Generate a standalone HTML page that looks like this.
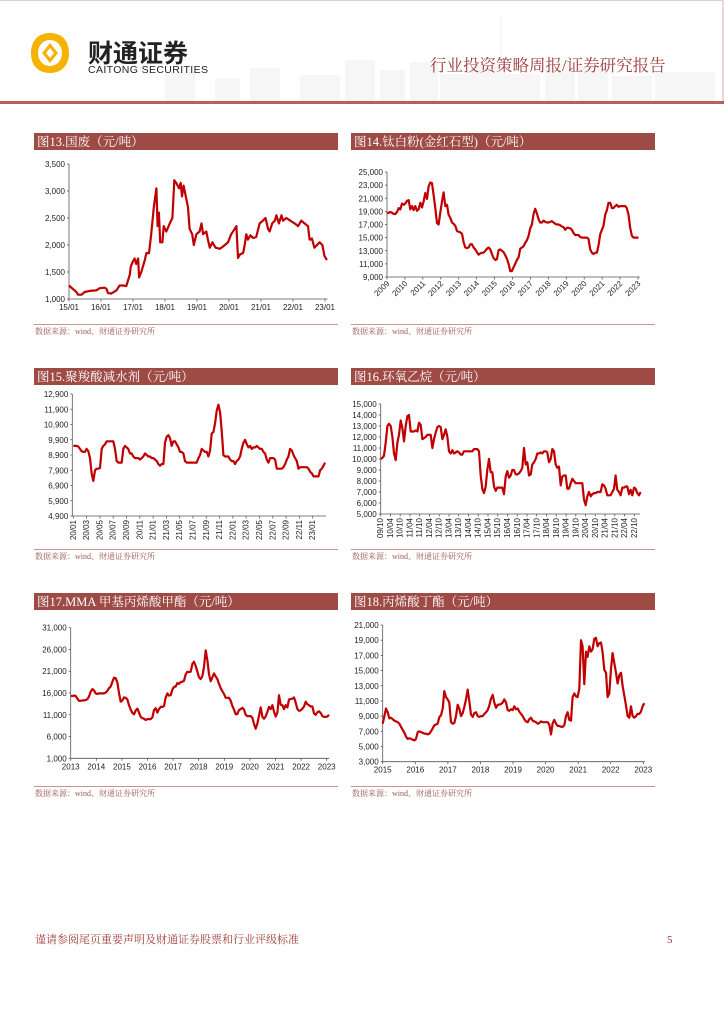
<!DOCTYPE html>
<html><head><meta charset="utf-8">
<style>
html,body{margin:0;padding:0;background:#fff;}
svg{display:block;}
.t{font-family:"Liberation Sans",sans-serif;font-size:8px;fill:#222;}
.cn{font-family:"Liberation Serif","Noto Serif CJK SC",serif;}
</style></head>
<body>
<svg id="page" width="724" height="1024" viewBox="0 0 724 1024" xmlns="http://www.w3.org/2000/svg">
  <rect x="0" y="0" width="724" height="1024" fill="#fff"/>
  <rect x="0" y="0" width="724" height="1" fill="#e6cfcd"/>
  <rect x="722" y="0" width="2" height="104" fill="#ead6d4"/>
  <g fill="#f6f6f6">
    <rect x="165" y="72" width="30" height="30"/>
    <rect x="215" y="78" width="25" height="24"/><rect x="250" y="68" width="30" height="34"/>
    <rect x="300" y="75" width="40" height="27"/><rect x="345" y="60" width="30" height="42"/>
    <rect x="380" y="70" width="25" height="32"/><rect x="410" y="62" width="28" height="40"/>
    <rect x="440" y="74" width="30" height="28"/><rect x="470" y="66" width="30" height="36"/>
    <rect x="500" y="74" width="40" height="28"/><rect x="545" y="70" width="30" height="32"/>
    <rect x="578" y="66" width="30" height="36"/><rect x="612" y="76" width="40" height="26"/>
    <rect x="655" y="72" width="60" height="30"/><rect x="500" y="14" width="2" height="88"/>
  </g>
  <g>
    <path fill-rule="evenodd" d="M50 33 C62 33 69 41 69 53 C69 65 62 73 50 73 C38 73 31 65 31 53 C31 41 38 33 50 33 Z M50 40 C43 40 38 46 38 53 C38 60 43 66 50 66 C57 66 62 60 62 53 C62 46 57 40 50 40 Z" fill="#f5b300"/>
    <path fill-rule="evenodd" d="M50 43 L58 53 L50 63 L42 53 Z M50 48 L54 53 L50 58 L46 53 Z" fill="#f5b300"/>
    <text x="88" y="62" font-size="25" font-weight="bold" fill="#222" style="font-family:'Noto Sans CJK SC',sans-serif">财通证券</text>
    <text x="88" y="73" font-family="Liberation Sans, sans-serif" font-size="10.5" fill="#222" textLength="120">CAITONG SECURITIES</text>
  </g>
  <text x="430" y="71" class="cn" font-size="16.5" fill="#9c3b36">行业投资策略周报/证券研究报告</text>
  <rect x="0" y="101" width="724" height="3" fill="#b5605a"/>
  <g id="charts"></g>
  <text x="35" y="943" class="cn" font-size="11" fill="#a0403b">谨请参阅尾页重要声明及财通证券股票和行业评级标准</text>
  <text x="667" y="943" class="cn" font-size="11" fill="#a0403b">5</text>
</svg>
<script>
// ---- Chart 13: 国废 ----
const c13Dates=[2015.00,2015.13,2015.23,2015.28,2015.39,2015.49,2015.65,2015.85,2015.96,2016.11,2016.17,2016.22,2016.32,2016.48,2016.58,2016.69,2016.79,2016.90,2016.93,2017.00,2017.05,2017.10,2017.16,2017.19,2017.26,2017.36,2017.42,2017.50,2017.57,2017.65,2017.73,2017.77,2017.81,2017.85,2017.92,2017.96,2018.04,2018.15,2018.23,2018.29,2018.35,2018.44,2018.49,2018.53,2018.58,2018.65,2018.72,2018.77,2018.85,2018.90,2018.98,2019.08,2019.14,2019.19,2019.29,2019.34,2019.40,2019.48,2019.58,2019.71,2019.81,2019.97,2020.07,2020.18,2020.23,2020.28,2020.35,2020.44,2020.49,2020.54,2020.59,2020.67,2020.75,2020.85,2020.96,2021.06,2021.14,2021.22,2021.27,2021.35,2021.43,2021.48,2021.56,2021.64,2021.69,2021.79,2021.92,2022.05,2022.16,2022.26,2022.36,2022.47,2022.52,2022.59,2022.67,2022.75,2022.83,2022.92,2022.98,2023.06];
const c13Values=[1250,1180,1130,1080,1080,1130,1150,1160,1200,1210,1190,1110,1100,1160,1250,1250,1240,1450,1600,1700,1750,1650,1750,1400,1500,1700,1850,1850,2200,2700,3050,2350,2600,2050,2050,2350,2250,2400,2500,3200,3150,3050,3150,2900,3100,2900,2700,2300,2200,2000,2200,2250,2400,2200,2250,2100,1950,2050,1950,1930,1970,2050,2200,2300,2350,1760,1830,1850,2000,2200,2100,2180,2130,2150,2400,2450,2500,2300,2250,2400,2450,2550,2400,2550,2450,2500,2450,2400,2350,2450,2400,2350,2100,2120,1950,2000,2050,2000,1800,1720];
const c13XTicks=[2015,2016,2017,2018,2019,2020,2021,2022,2023];
const c13XLabels=["15/01","16/01","17/01","18/01","19/01","20/01","21/01","22/01","23/01"];
const c13YTicks=[1000,1500,2000,2500,3000,3500];

// ---- Chart 14: 钛白粉 ----
const c14Start=2009.0, c14Step=0.0929;
const c14Values=[18700,18800,18900,18800,18600,18600,18900,19500,19300,20200,20000,20200,20600,20700,19300,19800,19200,19800,19100,19300,20300,19600,20500,21800,20900,22800,23400,23300,21500,19500,17200,17000,18800,20500,21900,19800,20000,18500,18000,17300,17100,16800,16000,15900,15800,15600,14300,13500,13400,13500,14000,14000,13500,13200,12800,12400,12600,12700,12700,13000,13300,13500,13200,12500,11900,11600,11700,13100,13200,13000,12800,12300,11800,11000,9900,9900,10500,11000,11600,12000,13300,13500,13700,14200,14600,15300,16400,17000,18600,19400,18700,17800,17300,17300,17600,17400,17300,17300,17400,17500,17300,17100,17000,17000,16900,16700,16600,16200,16500,16500,16400,16200,15700,15400,15400,15400,15100,15000,15000,15000,15000,14800,13200,12700,12500,12700,12700,13800,15500,16200,16800,18500,19200,20300,20300,19500,19500,19800,20000,19700,19800,19800,19800,19800,19500,18500,16500,15300,15000,15000,15000,15000];
const c14XTicks=[2009,2010,2011,2012,2013,2014,2015,2016,2017,2018,2019,2020,2021,2022,2023];
const c14YTicks=[9000,11000,13000,15000,17000,19000,21000,23000,25000];

// ---- Chart 15: 聚羧酸减水剂 (months since 2020/01) ----
const c15Start=0, c15Step=0.2508;
const c15Values=[9500,9500,9500,9450,9300,9150,9100,9100,9300,9150,8700,7700,7200,7900,8000,8000,8050,9300,9500,9600,9800,9800,9800,9800,9800,9300,8500,8400,8400,8400,9300,9500,9400,9300,9000,9000,8800,8700,8700,8700,8600,8700,8800,9000,8900,8800,8800,8700,8700,8600,8500,8300,8200,8300,8300,9700,10100,10200,10000,9500,9800,9800,9600,9400,9100,9100,9000,8500,8400,8400,8400,8400,8400,8400,8400,8700,8900,9300,9200,9100,9100,8800,9200,10300,10400,11000,11800,12200,11700,10500,8900,8800,8800,8800,8600,8500,8500,8300,8500,8600,8800,9300,9700,9900,9600,9400,9500,9300,9400,9400,9500,9400,9300,9300,9100,9000,8600,8400,8700,8700,8700,8600,8000,8000,8000,8000,8100,8300,8600,8800,9300,9200,8900,8700,8500,8000,8100,8100,8100,8100,8100,8000,7800,7700,7500,7500,7500,7500,7900,8000,8200,8400];
const c15XTicks=[0,2,4,6,8,10,12,14,16,18,20,22,24,26,28,30,32,34,36];
const c15XLabels=["20/01","20/03","20/05","20/07","20/09","20/11","21/01","21/03","21/05","21/07","21/09","21/11","22/01","22/03","22/05","22/07","22/09","22/11","23/01"];
const c15YTicks=[4900,5900,6900,7900,8900,9900,10900,11900,12900];

// ---- Chart 16: 环氧乙烷 (months since 2009/10) ----
const c16Start=0, c16Step=1.025;
const c16Values=[10000,10100,10300,11500,13000,13200,13000,12000,10500,9900,11500,12200,13500,12800,11600,13000,13900,14000,12500,12500,12500,12600,12500,13300,13100,11800,11900,12000,12200,12200,12200,11000,11800,12400,12900,13000,12900,11800,12200,12700,12000,10700,10500,10800,10500,10600,10700,10600,10400,10400,10700,10700,10700,10700,10700,10700,10900,10900,10900,10700,8500,7300,6900,7500,9000,10000,8800,8800,7500,7100,7400,7400,7400,7400,6800,8400,8900,8300,8500,9000,9000,8600,8600,8700,8900,9200,11000,9500,9700,8500,8600,9500,9700,10000,10500,10500,10600,10500,10700,10700,10600,9700,10000,10900,10700,9500,9200,9300,7600,8400,8500,8500,7300,7300,7800,8200,8000,7800,7800,7800,7800,7800,6300,5800,6600,7000,6600,6800,6900,6900,7000,7000,7000,7700,7600,7300,6700,6700,6700,7000,7300,8500,7200,7000,6700,7400,7400,7500,7500,6800,7200,6700,7400,7300,6900,6700,7000];
const c16XTicks=[0,6,12,18,24,30,36,42,48,54,60,66,72,78,84,90,96,102,108,114,120,126,132,138,144,150,156];
const c16XLabels=["09/10","10/04","10/10","11/04","11/10","12/04","12/10","13/04","13/10","14/04","14/10","15/04","15/10","16/04","16/10","17/04","17/10","18/04","18/10","19/04","19/10","20/04","20/10","21/04","21/10","22/04","22/10"];
const c16YTicks=[5000,6000,7000,8000,9000,10000,11000,12000,13000,14000,15000];

// ---- Chart 17: MMA ----
const c17Start=2013.0, c17Step=0.0651;
const c17Values=[15300,15300,15400,15300,14700,14200,14200,14300,14300,14400,14600,15200,16300,16900,16600,15900,15800,15900,15900,15900,15900,16100,16500,17100,17500,18600,19500,19400,18400,16000,14000,14300,15000,14900,14500,13200,12200,11400,11100,12000,12400,11500,10500,10200,10100,9800,10000,10000,10000,10400,12100,12500,11500,12300,12800,12800,13000,15000,15900,15400,15500,16800,17400,17500,18300,18100,18500,18600,18800,20300,20900,20800,20900,22700,23200,22200,20900,19600,19200,19900,22000,25800,23500,20300,18700,19600,20500,19800,19200,18100,17100,16400,15800,14900,14900,14900,14200,13000,12200,11100,11200,12100,12300,12600,12200,11000,10700,10700,10700,10300,8900,7800,9000,10800,12700,10500,10100,10600,11700,12800,12300,13200,11700,10600,11500,15500,13300,13200,12300,13200,12700,14500,14600,14700,15000,13800,12300,11900,12000,12400,12900,14000,13400,13200,12900,12900,11300,11000,11600,11800,11400,10700,10500,10500,10600,11000];
const c17XTicks=[2013,2014,2015,2016,2017,2018,2019,2020,2021,2022,2023];
const c17YTicks=[1000,6000,11000,16000,21000,26000,31000];

// ---- Chart 18: 丙烯酸丁酯 ----
const c18Start=2015.0, c18Step=0.05115;
const c18Values=[8000,9000,10000,9500,8700,8800,8600,8400,8300,8200,8000,7600,7200,6800,6300,6000,6100,6000,5900,5800,6000,6900,7000,6900,6800,6700,6700,6600,6700,7000,7400,7800,7900,8000,8900,9100,10000,12300,11500,11200,10800,8200,8000,8100,9000,10500,10000,9000,9400,10200,11200,12500,11000,9200,8900,9400,9500,9000,8900,9000,9000,9300,9500,9800,10400,11300,11800,10800,10100,10500,10500,10600,10800,11200,10800,9800,9700,9900,9800,10300,9900,10000,9600,9300,9000,8600,8300,8200,8600,8800,8400,8300,8200,8000,8100,8300,8200,8200,8200,8200,7900,6600,8100,8500,8000,7700,7700,7600,7600,7800,9000,9500,8500,8400,11500,12000,11600,11500,12600,19000,18200,13200,17500,16800,18200,17500,17800,19200,19300,18200,18600,18700,17400,15100,14700,11500,12000,15200,17300,16000,14700,13300,14400,14700,13000,11700,10400,9000,8800,10300,9000,8800,9000,9300,9300,9600,10300,10700];
const c18XTicks=[2015,2016,2017,2018,2019,2020,2021,2022,2023];
const c18YTicks=[3000,5000,7000,9000,11000,13000,15000,17000,19000,21000];

const NS="http://www.w3.org/2000/svg";
const root=document.getElementById('charts');
function mk(tag,attrs,parent){const e=document.createElementNS(NS,tag);for(const k in attrs)e.setAttribute(k,attrs[k]);(parent||root).appendChild(e);return e;}
function fmt(v){return v.toLocaleString('en-US');}

function panel(cfg){
  const g=mk('g',{});
  
  
  const bar=mk('rect',{x:cfg.px,y:cfg.ty,width:cfg.pw,height:17,fill:'#9e4b46'},g);
  
  
  const tt=mk('text',{x:cfg.px+3,y:cfg.ty+13,'font-size':'12.5',fill:'#fff','class':'cn'},g);
  tt.textContent=cfg.title;
  
  
  const ln=mk('rect',{x:cfg.px,y:cfg.sy,width:cfg.pw,height:1,fill:'#c99590'},g);
  
  
  const st=mk('text',{x:cfg.px+1,y:cfg.sy+10,'font-size':'8',fill:'#9a5a55','class':'cn'},g);
  st.textContent='数据来源：wind、财通证券研究所';
  
  

  const X=v=>cfg.x0+(v-cfg.d0)/(cfg.d1-cfg.d0)*(cfg.x1-cfg.x0);
  const Y=v=>cfg.y0+(v-cfg.v0)/(cfg.v1-cfg.v0)*(cfg.y1-cfg.y0);
  const axisL=X(cfg.dmin), axisR=X(cfg.dmax);
  const ya=mk('line',{x1:axisL,y1:Y(cfg.yTicks[cfg.yTicks.length-1]),x2:axisL,y2:Y(cfg.yTicks[0]),stroke:'#555','stroke-width':0.8},g);
  
  
  const xa=mk('line',{x1:axisL,y1:Y(cfg.yTicks[0]),x2:axisR,y2:Y(cfg.yTicks[0]),stroke:'#555','stroke-width':0.8},g);
  
  
  cfg.yTicks.forEach(v=>{
    mk('line',{x1:axisL-2,y1:Y(v),x2:axisL,y2:Y(v),stroke:'#555','stroke-width':0.8},g);
    const t=mk('text',{x:axisL-4,y:Y(v)+3,'text-anchor':'end','class':'t','font-size':cfg.yfs||8},g);
    t.textContent=fmt(v);
    
    
  });
  const yb=Y(cfg.yTicks[0]);
  cfg.xTicks.forEach((v,i)=>{
    const x=X(v);
    mk('line',{x1:x,y1:yb,x2:x,y2:yb+2.5,stroke:'#555','stroke-width':0.8},g);
    const lab=cfg.xLabels?cfg.xLabels[i]:String(v);
    let t;
    if(cfg.rot===45){
      t=mk('text',{x:x+3,y:yb+7,'text-anchor':'end','class':'t','font-size':7.5,transform:`rotate(-45 ${x+3} ${yb+7})`},g);
    }else if(cfg.rot===90){
      t=mk('text',{x:x+2.5,y:yb+4,'text-anchor':'end','class':'t','font-size':7,transform:`rotate(-90 ${x+2.5} ${yb+4})`},g);
    }else{
      t=mk('text',{x:x,y:yb+11,'text-anchor':'middle','class':'t','font-size':8},g);
    }
    t.textContent=lab;
    
    
  });
  let d='';
  cfg.values.forEach((v,i)=>{const dt=cfg.dates?cfg.dates[i]:cfg.start+i*cfg.step;d+=(i?'L':'M')+X(dt).toFixed(1)+' '+Y(v).toFixed(1);});
  const p=mk('path',{d:d,fill:'none',stroke:'#c00000','stroke-width':2.2,'stroke-linejoin':'round'},g);
  
  
}

panel({name:'chart-scrap-steel',title:'图13.国废（元/吨）',px:34,pw:304,ty:133,sy:324,
  x0:69,x1:325,d0:2015,d1:2023,dmin:2015,dmax:2023.08,y0:299,y1:164,v0:1000,v1:3500,
  yTicks:c13YTicks,xTicks:c13XTicks,xLabels:c13XLabels,dates:c13Dates,values:c13Values});
panel({name:'chart-titanium-dioxide',title:'图14.钛白粉(金红石型)（元/吨）',px:351,pw:304,ty:133,sy:324,
  x0:387,x1:638,d0:2009,d1:2023,dmin:2009,dmax:2023.1,y0:277,y1:172,v0:9000,v1:25000,yfs:7.5,
  yTicks:c14YTicks,xTicks:c14XTicks,rot:45,start:c14Start,step:c14Step,values:c14Values});
panel({name:'chart-water-reducer',title:'图15.聚羧酸减水剂（元/吨）',px:34,pw:304,ty:368,sy:549,
  x0:73.3,x1:312.7,d0:0,d1:36,dmin:-0.15,dmax:38,y0:516,y1:394,v0:4900,v1:12900,yfs:7.5,
  yTicks:c15YTicks,xTicks:c15XTicks,xLabels:c15XLabels,rot:90,start:c15Start,step:c15Step,values:c15Values});
panel({name:'chart-ethylene-oxide',title:'图16.环氧乙烷（元/吨）',px:351,pw:304,ty:368,sy:549,
  x0:380.7,x1:634.3,d0:0,d1:156,dmin:0,dmax:159.5,y0:514,y1:404,v0:5000,v1:15000,yfs:7.5,
  yTicks:c16YTicks,xTicks:c16XTicks,xLabels:c16XLabels,rot:90,start:c16Start,step:c16Step,values:c16Values});
panel({name:'chart-mma',title:'图17.MMA 甲基丙烯酸甲酯（元/吨）',px:34,pw:304,ty:593,sy:786,
  x0:70.7,x1:326.7,d0:2013,d1:2023,dmin:2013,dmax:2023.1,y0:758.3,y1:627.7,v0:1000,v1:31000,
  yTicks:c17YTicks,xTicks:c17XTicks,start:c17Start,step:c17Step,values:c17Values});
panel({name:'chart-butyl-acrylate',title:'图18.丙烯酸丁酯（元/吨）',px:351,pw:304,ty:593,sy:786,
  x0:382.7,x1:643.3,d0:2015,d1:2023,dmin:2015,dmax:2023.05,y0:761.7,y1:625,v0:3000,v1:21000,yfs:7.5,
  yTicks:c18YTicks,xTicks:c18XTicks,start:c18Start,step:c18Step,values:c18Values});
</script>
</body></html>
